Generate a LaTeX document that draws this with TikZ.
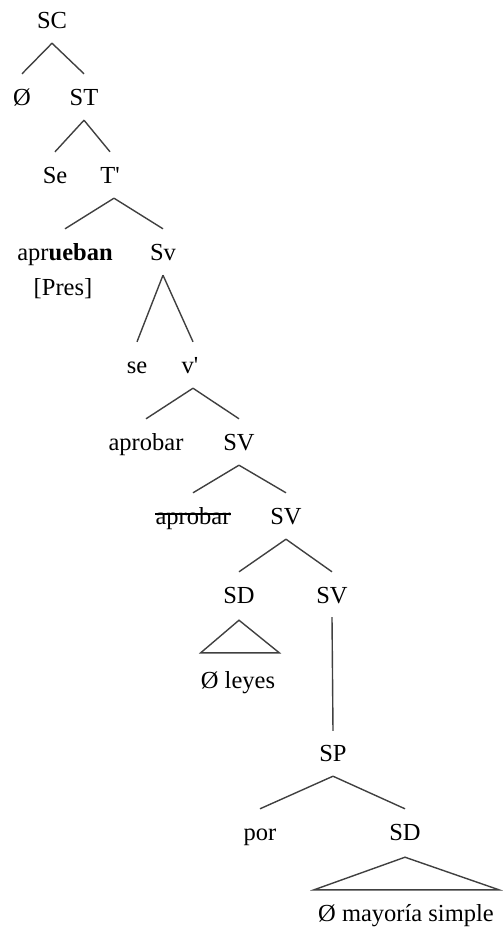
\documentclass[tikz,border=0pt]{standalone}
\usepackage{fontspec}
\setmainfont{Liberation Serif}
\usetikzlibrary{calc}
\definecolor{branchgray}{HTML}{404040}
\tikzset{
  lbl/.style={anchor=base, inner sep=0pt, text height=16pt, text depth=5pt, font=\fontsize{24.5}{29}\selectfont},
  branch/.style={draw=branchgray, line width=1.4pt},
}
\newcommand\tedge[2]{\draw[branch] ($(#1.south)+(0,10)$) -- ($(#2.north)+(0,-15)$);}
\begin{document}
\begin{tikzpicture}[x=1pt,y=-1pt]
\useasboundingbox (0,0) rectangle (503,935);
\node[lbl] (SC) at (52,28) {SC};
\node[lbl] (Z1) at (22,105) {Ø};
\node[lbl] (ST) at (84,105) {ST};
\node[lbl] (Se) at (55,183) {Se};
\node[lbl] (Tb) at (110,183) {T\textquotesingle};
\node[lbl] (apr) at (65,260) {apr\textbf{ueban}};
\node[lbl] (Sv1) at (163,260) {Sv};
\node[lbl] (Pres) at (63,295) {[Pres]};
\node[lbl] (se) at (137,373) {se};
\node[lbl] (vb) at (190,373) {v\textquotesingle};
\node[lbl] (aprobarA) at (146,450) {aprobar};
\node[lbl] (SV1) at (239,450) {SV};
\node[lbl] (aprobarB) at (193,524) {aprobar};
\node[lbl] (SV2) at (286,524) {SV};
\node[lbl] (SD1) at (239,603) {SD};
\node[lbl] (SV3) at (332,603) {SV};
\node[lbl] (leyes) at (238,688) {Ø leyes};
\node[lbl] (SP) at (333,761) {SP};
\node[lbl] (por) at (260,840) {por};
\node[lbl] (SD2) at (405,840) {SD};
\node[lbl] (may) at (406,921) {Ø mayoría simple};
% strike-through
\draw[black, line width=1.5pt] ($(aprobarB.base west)+(0,-10)$) -- ($(aprobarB.base east)+(0,-10)$);
% branches
\tedge{SC}{Z1}
\tedge{SC}{ST}
\tedge{ST}{Se}
\tedge{ST}{Tb}
\draw[branch] ($(Tb.south)+(4,10)$) -- ($(apr.north)+(0,-15)$);
\draw[branch] ($(Tb.south)+(4,10)$) -- ($(Sv1.north)+(0,-15)$);
\tedge{Sv1}{se}
\draw[branch] ($(Sv1.south)+(0,10)$) -- ($(vb.north)+(3,-15)$);
\draw[branch] ($(vb.south)+(3,10)$) -- ($(aprobarA.north)+(0,-15)$);
\draw[branch] ($(vb.south)+(3,10)$) -- ($(SV1.north)+(0,-15)$);
\tedge{SV1}{aprobarB}
\tedge{SV1}{SV2}
\tedge{SV2}{SD1}
\tedge{SV2}{SV3}
\tedge{SP}{por}
\tedge{SP}{SD2}
\draw[branch] ($(SV3.south)+(0,9)$) -- ($(SP.north)+(0,-14)$);
% triangles
\draw[branch] ($(SD1.south)+(0,12)$) -- ($(leyes.north west)+(0,-19)$) -- ($(leyes.north east)+(4,-19)$) -- cycle;
\draw[branch] ($(SD2.south)+(0,12)$) -- ($(may.north west)+(-4,-15)$) -- ($(may.north east)+(5,-15)$) -- cycle;
\end{tikzpicture}
\end{document}
